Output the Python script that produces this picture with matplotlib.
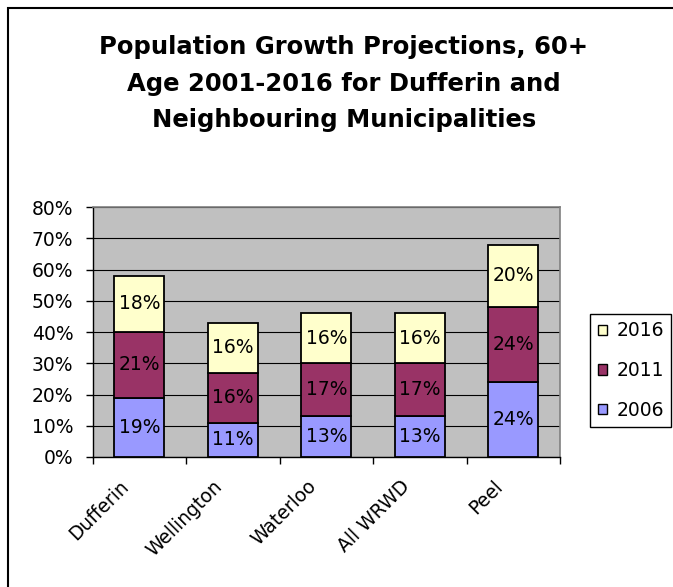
import matplotlib.pyplot as plt
from matplotlib.patches import Patch, Rectangle
from matplotlib.transforms import ScaledTranslation

plt.rcParams["font.family"] = ["DejaVu Sans"]

regions = ["Dufferin", "Wellington", "Waterloo", "All WRWD", "Peel"]
years = ["2006", "2011", "2016"]
growth_2006 = [19, 11, 13, 13, 24]
growth_2011 = [21, 16, 17, 17, 24]
growth_2016 = [18, 16, 16, 16, 20]
colors = {"2006": "#9999FF", "2011": "#993366", "2016": "#FFFFCC"}

W, H = 673, 587
fig = plt.figure(figsize=(W / 100, H / 100), dpi=100)

# chart frame (left and top edges visible, rest runs off the canvas)
fig.patches.append(Rectangle((8 / W, -0.1), 1.2, 1.1 - 8 / H, transform=fig.transFigure,
                             fill=False, edgecolor="black", linewidth=1.5, clip_on=False))

fig.text(344 / W, 1 - 35 / H,
         "Population Growth Projections, 60+\nAge 2001-2016 for Dufferin and\nNeighbouring Municipalities",
         ha="center", va="top", fontsize=17.5, fontweight="bold", linespacing=1.67)

ax = fig.add_axes([92.7 / W, 1 - 457 / H, (560 - 92.7) / W, 250 / H])
ax.set_facecolor("#C0C0C0")
ax.set_axisbelow(True)

x = list(range(len(regions)))
width = 0.535
bottom = [0] * len(regions)
for year, vals in zip(years, [growth_2006, growth_2011, growth_2016]):
    bars = ax.bar(x, [v / 100 for v in vals], width, bottom=[b / 100 for b in bottom],
                  color=colors[year], edgecolor="black", linewidth=1.3, zorder=3)
    ax.bar_label(bars, labels=[f"{v}%" for v in vals], label_type="center", fontsize=13.5)
    bottom = [b + v for b, v in zip(bottom, vals)]

ax.set_xlim(-0.5, len(regions) - 0.5)
ax.set_ylim(0, 0.8)
yt = [i / 10 for i in range(9)]
ax.set_yticks(yt)
ax.set_yticklabels([f"{int(round(t * 100))}%" for t in yt], fontsize=13.5)
ax.yaxis.grid(True, color="black", linewidth=0.8)
ax.tick_params(axis="y", direction="out", length=5, width=1, pad=9)

ax.set_xticks(x)
ax.set_xticklabels(regions, fontsize=13.5, rotation=45, ha="right", va="top",
                   rotation_mode="anchor")
ax.tick_params(axis="x", which="major", length=0, pad=14)
shift = ScaledTranslation(-0.2, 0, fig.dpi_scale_trans)
for lbl in ax.get_xticklabels():
    lbl.set_transform(lbl.get_transform() + shift)
ax.set_xticks([i - 0.5 for i in range(len(regions) + 1)], minor=True)
ax.tick_params(axis="x", which="minor", direction="out", length=5, width=1)

for side in ("top", "right"):
    ax.spines[side].set_color("#808080")
    ax.spines[side].set_linewidth(1.2)
for side in ("left", "bottom"):
    ax.spines[side].set_color("black")
    ax.spines[side].set_linewidth(1)

handles = [Patch(facecolor=colors[y], edgecolor="black", linewidth=1) for y in reversed(years)]
leg = fig.legend(handles, list(reversed(years)), loc="upper left",
                 bbox_to_anchor=(590 / W, 1 - 314 / H), fontsize=13.5,
                 fancybox=False, framealpha=1, edgecolor="black",
                 handlelength=0.5, handleheight=0.5, handletextpad=0.5,
                 labelspacing=1.1, borderpad=0.4, borderaxespad=0)
leg.get_frame().set_linewidth(1)

fig.savefig("out.png", dpi=100)
